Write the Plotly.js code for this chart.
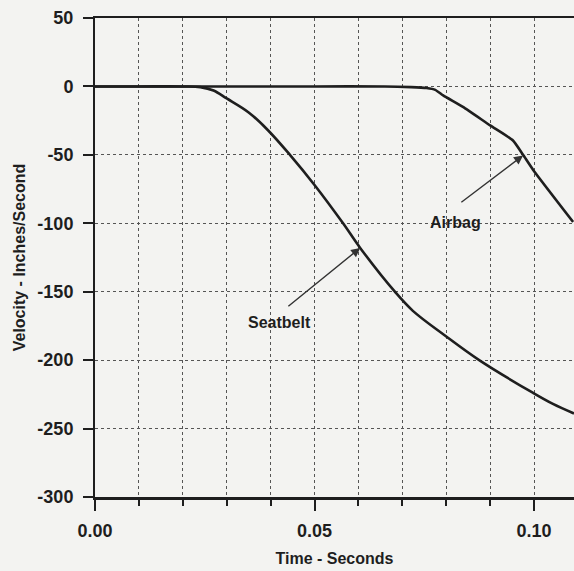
<!DOCTYPE html>
<html>
<head>
<meta charset="utf-8">
<script src="https://cdn.plot.ly/plotly-3.0.1.min.js"></script>
<style>html,body{margin:0;padding:0;background:#f3f3f1;}</style>
</head>
<body>
<div id="chart" style="width:574px;height:571px;"></div>
<script>
// Seatbelt velocity curve
const seatbeltT = [0, 0.010, 0.020, 0.024, 0.027, 0.030, 0.035, 0.0394, 0.0444, 0.050, 0.0565, 0.0604, 0.0683, 0.0724, 0.0797, 0.0875, 0.0998, 0.1043, 0.1091];
const seatbeltV = [0, 0, 0, -0.5, -3, -8.8, -19, -32, -50, -72, -100, -118, -150, -164, -182, -200, -224, -232, -239];
// Airbag velocity curve
const airbagT = [0, 0.020, 0.050, 0.066, 0.072, 0.0755, 0.0775, 0.0793, 0.0838, 0.0900, 0.0952, 0.0975, 0.0998, 0.1089];
const airbagV = [0, 0, 0, 0, -0.5, -1.2, -2.5, -6.6, -15, -28.5, -39.5, -50, -61, -99];

const xTickVals = [0, 0.05, 0.10];
const xTickText = ['0.00', '0.05', '0.10'];
const yTickVals = [50, 0, -50, -100, -150, -200, -250, -300];
const yTickText = ['50', '0', '-50', '-100', '-150', '-200', '-250', '-300'];

const labels = [
  {name: 'Airbag', x: 0.082, y: -99.5, headX: 0.0975, headY: -50.4, tailX: 0.0831, tailY: -85.5},
  {name: 'Seatbelt', x: 0.0421, y: -172.5, headX: 0.0604, headY: -118, tailX: 0.0437, tailY: -161.5}
];

const FONT = 'Arial, "Liberation Sans", sans-serif';
const ink = '#1e1e1e';
const bold = s => '<b>' + s + '</b>';

const traces = [
  {x: seatbeltT, y: seatbeltV, mode: 'lines', line: {color: ink, width: 2.6, shape: 'spline', smoothing: 1.0}, hoverinfo: 'skip'},
  {x: airbagT, y: airbagV, mode: 'lines', line: {color: ink, width: 2.6, shape: 'spline', smoothing: 0.5}, hoverinfo: 'skip'}
];

const annotations = [];
labels.forEach(l => {
  annotations.push({
    x: l.headX, y: l.headY, xref: 'x', yref: 'y',
    ax: l.tailX, ay: l.tailY, axref: 'x', ayref: 'y',
    text: '', showarrow: true, arrowhead: 2, arrowsize: 1.3, arrowwidth: 1.4, arrowcolor: '#333'
  });
  annotations.push({
    x: l.x, y: l.y, xref: 'x', yref: 'y', text: bold(l.name), showarrow: false,
    font: {family: FONT, size: 16, color: ink}
  });
});

const layout = {
  width: 574, height: 571,
  margin: {l: 95, r: 0, t: 18, b: 74},
  paper_bgcolor: '#f3f3f1', plot_bgcolor: '#f3f3f1',
  showlegend: false,
  font: {family: FONT, color: ink},
  xaxis: {
    range: [0, 0.1091], tickvals: xTickVals, ticktext: xTickText.map(bold),
    ticks: 'outside', ticklen: 11, tickwidth: 2, tickcolor: ink,
    showline: true, linewidth: 2.5, linecolor: ink, mirror: true,
    showgrid: true, gridcolor: '#555', griddash: 'dot', gridwidth: 1,
    minor: {dtick: 0.01, tick0: 0, ticks: 'outside', ticklen: 6, tickwidth: 2, tickcolor: ink, showgrid: true, gridcolor: '#555', griddash: 'dot', gridwidth: 1},
    zeroline: false,
    tickfont: {family: FONT, size: 18, color: ink},
    ticklabelstandoff: 5,
    title: {text: bold('Time - Seconds'), font: {family: FONT, size: 16, color: ink}, standoff: 13}
  },
  yaxis: {
    range: [-300, 50], tickvals: yTickVals, ticktext: yTickText.map(bold),
    ticks: 'outside', ticklen: 10, tickwidth: 2, tickcolor: ink,
    showline: true, linewidth: 2, linecolor: ink,
    showgrid: true, gridcolor: '#555', griddash: 'dot', gridwidth: 1,
    zeroline: false,
    tickfont: {family: FONT, size: 18, color: ink},
    ticklabelstandoff: 6,
    title: {text: bold('Velocity - Inches/Second'), font: {family: FONT, size: 16, color: ink}, standoff: 8}
  },
  annotations: annotations
};

Plotly.newPlot('chart', traces, layout, {staticPlot: true, displayModeBar: false});
</script>
</body>
</html>
